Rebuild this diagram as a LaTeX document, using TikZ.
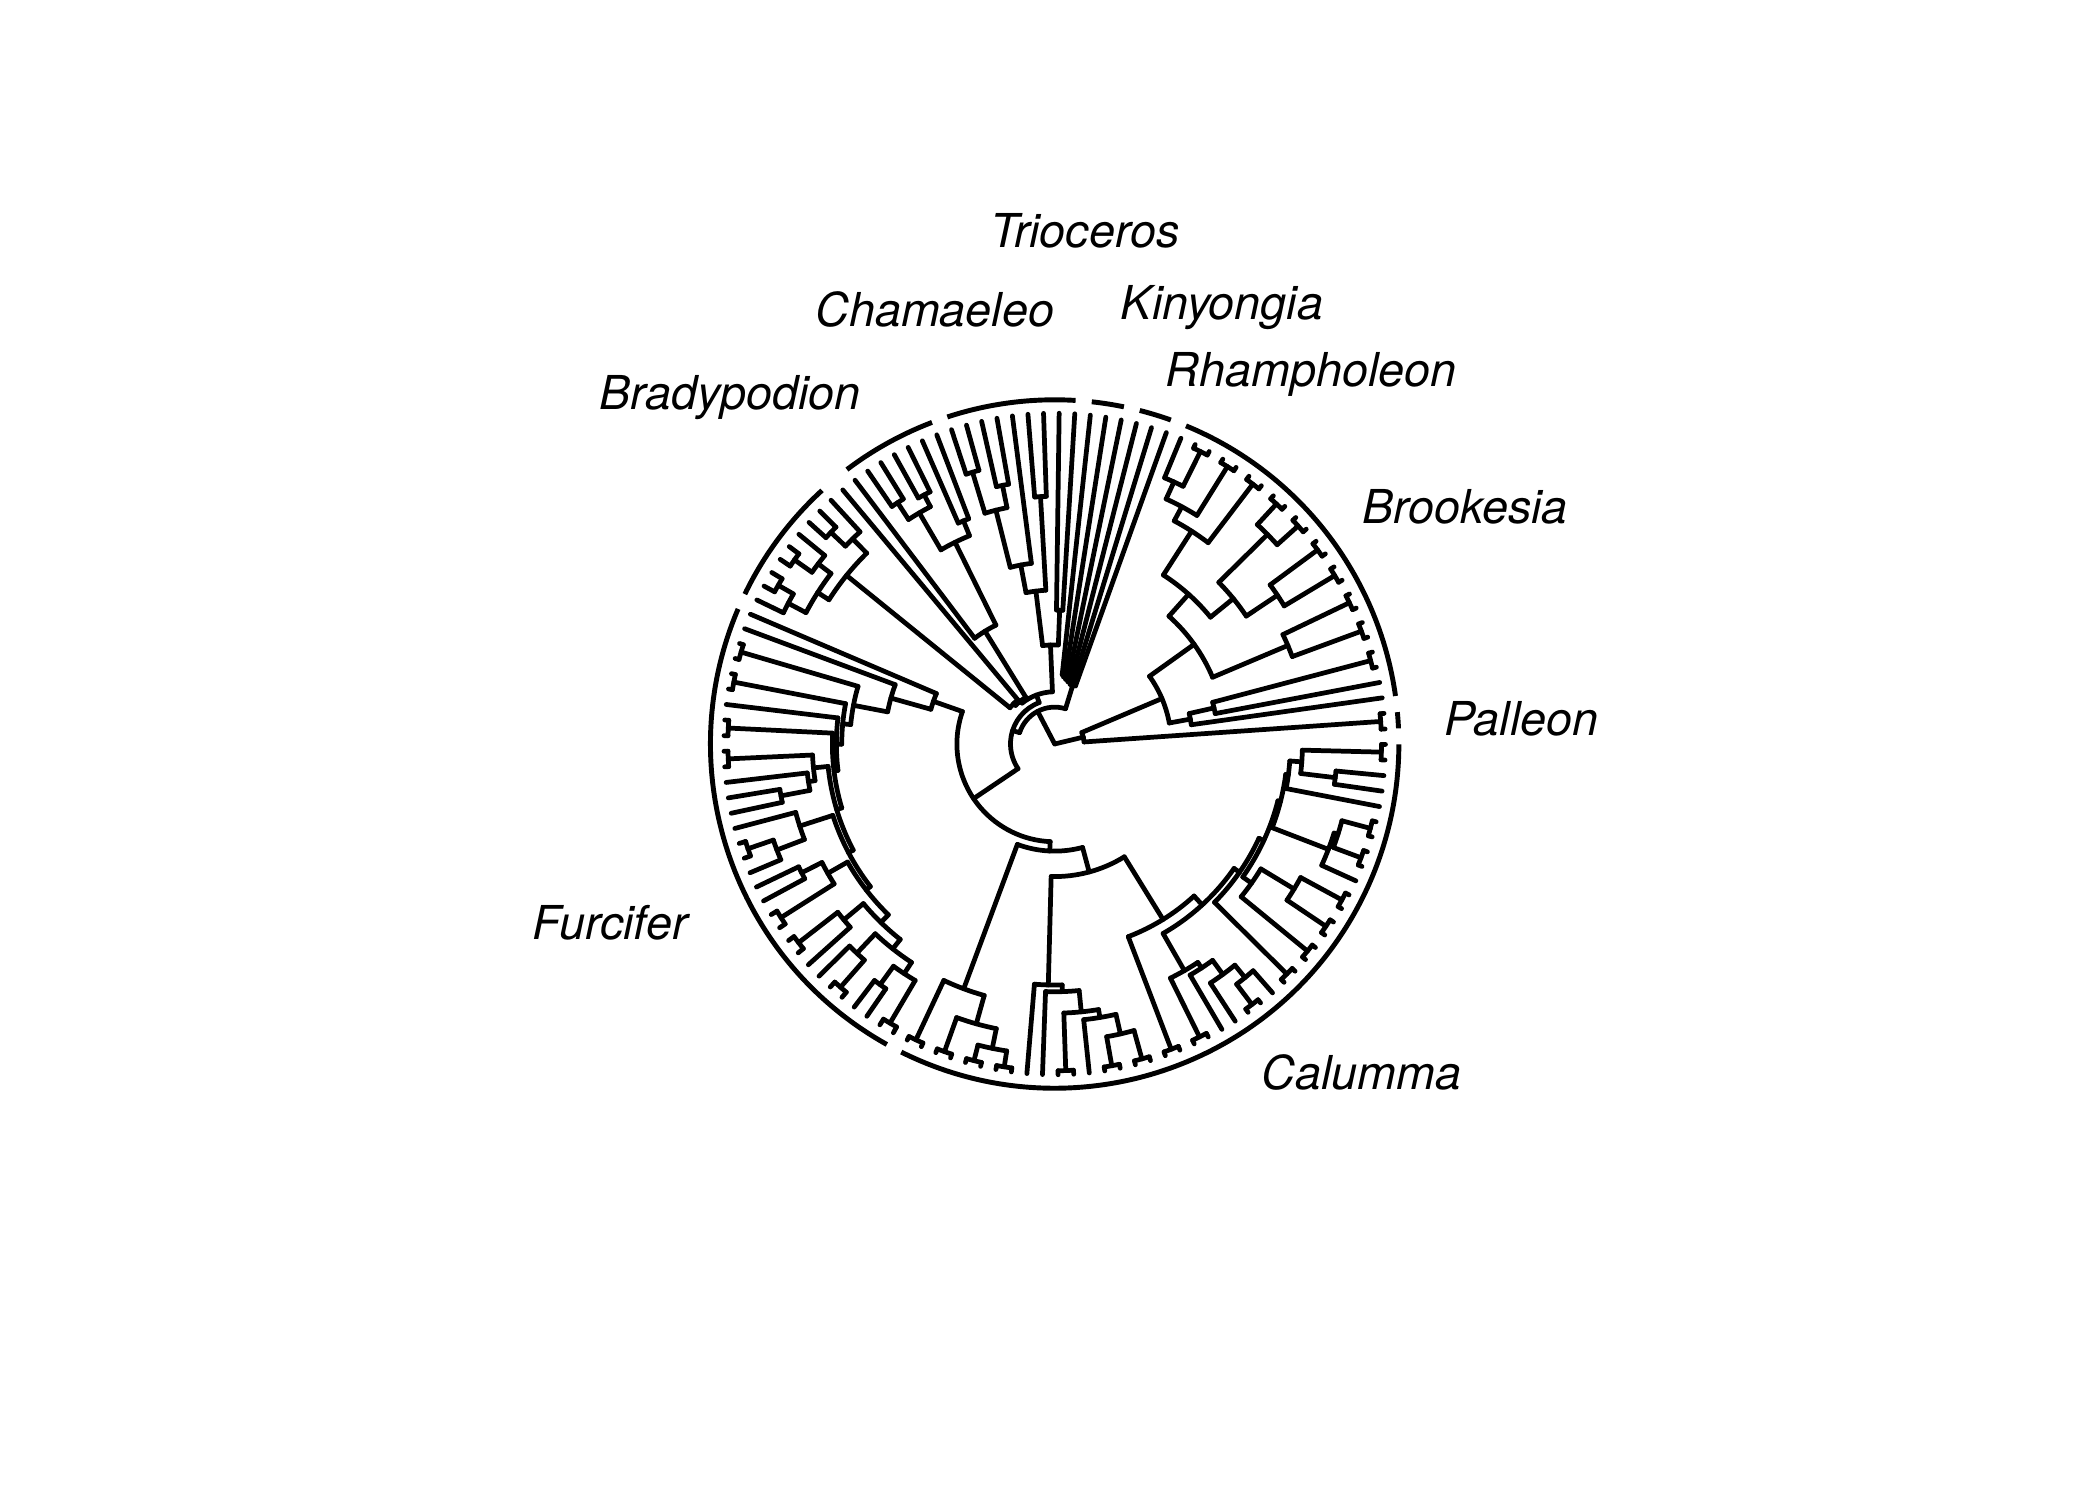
\documentclass[tikz,border=0pt]{standalone}
\usepackage{fontspec}
\setsansfont{TeX Gyre Heros}
\usepackage{tikz}

% tip index -> angle (133 tips round the circle)
\newcommand{\ta}[1]{(2.6+2.707*(#1))}
% internal node: parent radius, radius, first and last child
\newcommand{\nd}[4]{%
  \draw[br] ({\ta{((#3)+(#4))/2}}:#1) -- ({\ta{((#3)+(#4))/2}}:#2);
  \draw[br] ({\ta{#3}}:#2) arc[start angle={\ta{#3}}, end angle={\ta{#4}}, radius=#2];}
% tip edge
\newcommand{\tp}[2]{\draw[br] ({\ta{#2}}:#1) -- ({\ta{#2}}:247);}
% cherry
\newcommand{\ch}[3]{\nd{#1}{#2}{#3}{#3+1}\tp{#2}{#3}\tp{#2}{#3+1}}
% genus bracket
\newcommand{\gn}[2]{\draw[gen] ({\ta{#1}}:257) arc[start angle={\ta{#1}}, end angle={\ta{#2}}, radius=257];}

\begin{document}
\begin{tikzpicture}[
  x=0.01339cm, y=0.01339cm,
  br/.style={line width=1.35pt, line cap=round},
  gen/.style={line width=1.4pt},
  lab/.style={anchor=base, font=\sffamily\itshape\fontsize{13.3}{16}\selectfont, inner sep=0pt},
]
\useasboundingbox (-787.5,-564.5) rectangle (780.5,555.5);

% root
\nd{0}{22}{0.5}{7.52}
\nd{0}{27.5}{25.97}{58.97}

% Palleon
\ch{22}{244}{0}

% Brookesia
\nd{22}{87}{2.875}{12.17}
\nd{87}{103}{2}{3.75} \tp{103}{2}
\nd{103}{122}{3}{4.5} \tp{122}{3} \ch{122}{244}{4}
\nd{87}{128}{7.5}{16.84}
\nd{128}{189}{6.5}{8.5} \ch{189}{244}{6} \ch{189}{244}{8}
\nd{128}{150}{13.5}{20.19}
\nd{150}{172}{11.5}{15.5}
\nd{172}{200}{10.5}{12.5} \ch{200}{244}{10} \ch{200}{244}{12}
\nd{172}{223}{14.5}{16.5} \ch{223}{244}{14} \ch{223}{244}{16}
\nd{150}{189}{18.5}{21.875} \ch{189}{244}{18}
\nd{189}{201}{20.5}{23.25} \ch{201}{244}{20}
\nd{201}{215}{22.5}{24} \ch{215}{244}{22} \tp{215}{24}

% Rhampholeon, Kinyongia
\nd{27.5}{46}{25}{26.94} \tp{46}{25}
\nd{46}{47.5}{26}{27.875} \tp{47.5}{26}
\nd{47.5}{49}{27}{28.75} \tp{49}{27}
\nd{49}{50.5}{28}{29.5} \tp{50.5}{28}
\nd{50.5}{52}{29}{30} \tp{52}{29} \tp{52}{30}

% backbone
\nd{27.5}{33}{39.85}{78.09}
\nd{33}{39}{33.19}{46.5}
\nd{39}{41}{44}{49.05}
\nd{41}{43}{47}{51.125} \tp{43}{47}

% Trioceros
\nd{39}{74}{31.5}{34.875}
\ch{74}{100}{31}
\nd{74}{115}{33.5}{36.25} \ch{115}{185}{33}
\nd{115}{136}{35}{37.5} \tp{136}{35}
\nd{136}{180}{36.5}{38.5} \ch{180}{197}{36} \ch{180}{212}{38}

% Chamaeleo
\nd{41}{99}{42}{46} \tp{99}{46}
\nd{99}{168}{40.5}{43.5} \ch{168}{180}{40}
\nd{168}{200}{42.5}{44.5} \ch{200}{210}{42} \ch{200}{215}{44}

% Bradypodion
\nd{43}{200}{48.75}{53.5}
\nd{200}{215}{48}{49.5} \tp{215}{48} \ch{215}{230}{49}
\nd{200}{210}{51.75}{55.25}
\nd{210}{222}{51}{52.5} \tp{222}{51} \ch{222}{238}{52}
\nd{210}{225}{54.5}{56} \ch{225}{238}{54} \tp{225}{56}

% Furcifer + Calumma
\nd{33}{73}{58.375}{97.8}

% Furcifer
\nd{73}{96}{57}{59.75} \tp{96}{57}
\nd{96}{127}{58}{61.5} \tp{127}{58}
\nd{127}{153}{59.5}{63.53} \ch{153}{244}{59}
\nd{153}{159}{61.5}{65.55} \ch{159}{244}{61}
\nd{159}{163}{63}{68.1} \tp{163}{63}
\nd{163}{166}{64.5}{71.71} \ch{166}{244}{64}
\nd{166}{170}{67.625}{75.8}
\nd{170}{181}{66.5}{68.75} \ch{181}{244}{66}
\nd{181}{186}{68}{69.5} \tp{186}{68}
\nd{186}{208}{69}{70} \tp{208}{69} \tp{208}{70}
\nd{170}{174}{72.125}{79.47}
\nd{174}{200}{71}{73.25} \tp{200}{71}
\nd{200}{222}{72.5}{74} \ch{222}{242}{72} \tp{222}{74}
\nd{174}{178}{76.5}{82.44}
\nd{178}{195}{75.5}{77.5}
\nd{195}{212}{75}{76} \tp{212}{75} \tp{212}{76}
\ch{195}{242}{77}
\nd{178}{186}{80.25}{84.625}
\nd{186}{205}{79.5}{81} \ch{205}{242}{79} \tp{205}{81}
\nd{186}{195}{82.75}{86.5}
\nd{195}{215}{82}{83.5} \tp{215}{82} \ch{215}{242}{83}
\nd{195}{205}{85.5}{87.5}
\nd{205}{222}{85}{86} \tp{222}{85} \tp{222}{86}
\ch{205}{242}{87}

% Calumma
\nd{73}{80}{91.25}{104.36}
\nd{80}{195}{89.5}{93} \ch{195}{244}{89}
\nd{195}{217}{91.5}{94.5} \ch{217}{244}{91}
\nd{217}{232}{93.5}{95.5} \ch{232}{244}{93} \ch{232}{244}{95}
\nd{80}{99}{98.22}{110.49}
\nd{99}{180}{97}{99.44} \tp{180}{97}
\nd{180}{185}{98}{100.875} \tp{185}{98}
\nd{185}{201}{99.5}{102.25} \ch{201}{244}{99}
\nd{201}{207}{101}{103.5} \tp{207}{101}
\nd{207}{222}{102.5}{104.5} \ch{222}{244}{102} \ch{222}{244}{104}
\nd{99}{154}{106.5}{114.48} \ch{154}{244}{106}
\nd{154}{163}{109.78}{119.19}
\nd{163}{195}{108.5}{111.06} \ch{195}{244}{108}
\nd{195}{200}{110}{112.125} \tp{200}{110}
\nd{200}{213}{111}{113.25} \tp{213}{111}
\nd{213}{225}{112.5}{114} \ch{225}{244}{112} \tp{225}{114}
\nd{163}{168}{115.5}{122.875} \ch{168}{244}{115}
\nd{168}{172}{119}{126.75}
\nd{172}{180}{117.5}{120.5} \ch{180}{244}{117}
\nd{180}{209}{119.5}{121.5} \ch{209}{244}{119} \ch{209}{244}{121}
\nd{172}{174}{124.25}{129.25}
\nd{174}{219}{123}{125.5} \tp{219}{123}
\nd{219}{222}{124.5}{126.5} \ch{222}{244}{124} \ch{222}{244}{126}
\nd{174}{176}{128}{130.5} \tp{176}{128}
\nd{176}{185}{129.5}{131.5}
\nd{185}{211}{129}{130} \tp{211}{129} \tp{211}{130}
\ch{185}{244}{131}

% genus brackets
\gn{0}{1} \gn{2}{24} \gn{25}{27} \gn{28}{30} \gn{31}{39}
\gn{40}{46} \gn{48}{56} \gn{57}{88} \gn{89}{132}

% genus names
\node[lab] (trio) at (22.5,371) {Trioceros};
\node[lab] (cham) at (-89.5,312) {Chamaeleo};
\node[lab] (kiny) at (125,317) {Kinyongia};
\node[lab] (rham) at (191.5,267) {Rhampholeon};
\node[lab] (brad) at (-242.5,250) {Bradypodion};
\node[lab] (broo) at (306.5,165) {Brookesia};
\node[lab] (pall) at (348.5,6) {Palleon};
\node[lab] (furc) at (-332,-146) {Furcifer};
\node[lab] (calu) at (229,-258) {Calumma};
\end{tikzpicture}
\end{document}
